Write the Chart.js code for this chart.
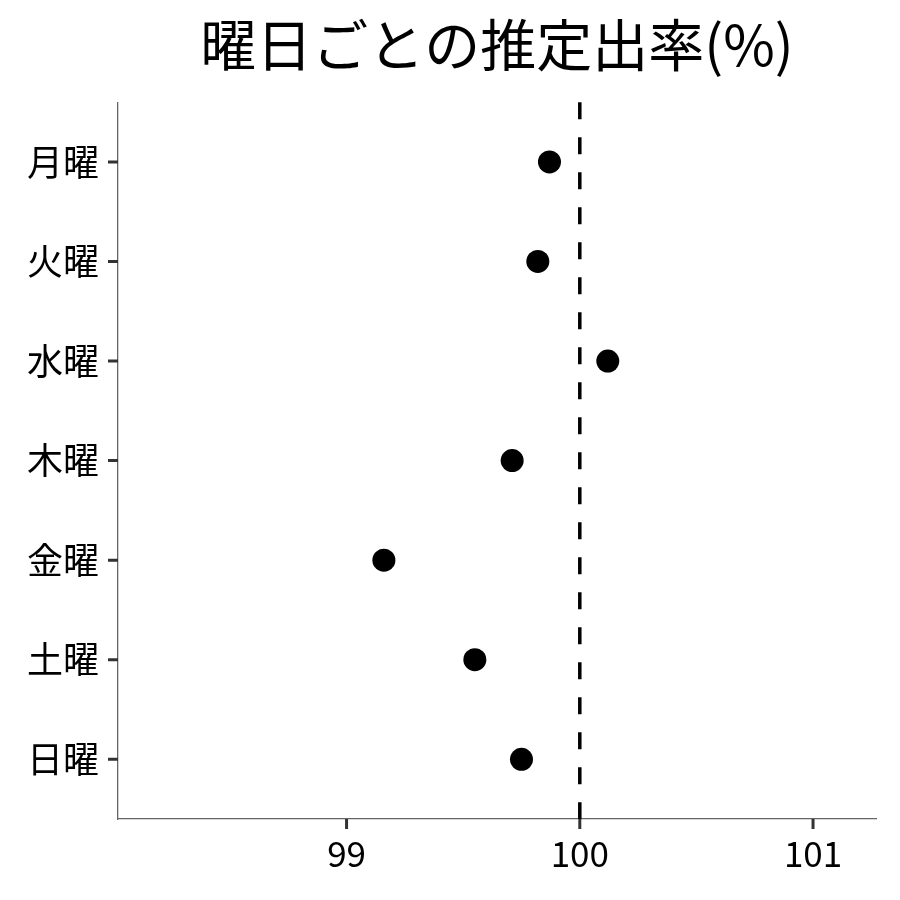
<!DOCTYPE html>
<html>
<head>
<meta charset="utf-8">
<script src="https://cdn.jsdelivr.net/npm/chart.js@4"></script>
<style>
  html, body { margin: 0; padding: 0; background: #fff; }
  #wrap { width: 900px; height: 900px; }
</style>
</head>
<body>
<div id="wrap"><canvas id="c" width="900" height="900"></canvas></div>
<script>
const days = ['月曜', '火曜', '水曜', '木曜', '金曜', '土曜', '日曜'];
const rates = [99.87, 99.82, 100.12, 99.71, 99.16, 99.55, 99.75];
const xTicks = [99, 100, 101];
const refRate = 100;

const font = '"Noto Sans CJK JP", "Noto Sans", sans-serif';

// vertical dashed reference line at refRate, plus thick axis ticks
const refLine = {
    id: 'refLine',
    afterDraw(chart) {
        const ctx = chart.ctx;
        const a = chart.chartArea;
        const sx = chart.scales.x, sy = chart.scales.y;
        const x = sx.getPixelForValue(refRate);
        ctx.save();
        ctx.strokeStyle = '#000';
        ctx.lineWidth = 3.5;
        ctx.setLineDash([17, 18]);
        ctx.beginPath();
        ctx.moveTo(x, a.top);
        ctx.lineTo(x, a.bottom);
        ctx.stroke();
        ctx.setLineDash([]);
        ctx.strokeStyle = '#333';
        ctx.lineWidth = 3;
        ctx.beginPath();
        sx.ticks.forEach(t => {
            const px = sx.getPixelForValue(t.value);
            ctx.moveTo(px, a.bottom);
            ctx.lineTo(px, a.bottom + 10);
        });
        sy.ticks.forEach(t => {
            const py = sy.getPixelForValue(t.value);
            ctx.moveTo(a.left, py);
            ctx.lineTo(a.left - 10, py);
        });
        ctx.stroke();
        ctx.restore();
    }
};

new Chart(document.getElementById('c'), {
    type: 'scatter',
    data: {
        datasets: [{
            data: rates.map((v, i) => ({ x: v, y: i })),
            pointRadius: 11.5,
            pointHoverRadius: 11.5,
            backgroundColor: '#000',
            borderWidth: 0
        }]
    },
    options: {
        responsive: false,
        animation: false,
        layout: { padding: { left: 0, right: 24, top: 0, bottom: 0 } },
        plugins: {
            legend: { display: false },
            tooltip: { enabled: false },
            title: {
                display: true,
                text: '曜日ごとの推定出率(%)',
                color: '#000',
                fullSize: false,
                font: { family: font, size: 56, weight: 'normal' },
                padding: { top: 11, bottom: 24 }
            }
        },
        scales: {
            x: {
                type: 'linear',
                min: 98.02,
                max: 101.27,
                afterBuildTicks: s => { s.ticks = xTicks.map(v => ({ value: v })); },
                afterFit: s => { s.height = 81; },
                ticks: { color: '#000', font: { family: font, size: 35 }, padding: 4 },
                grid: { drawOnChartArea: false, drawTicks: true, tickLength: 10, tickColor: 'rgba(0,0,0,0)' },
                border: { display: true, color: '#666', width: 1.3 }
            },
            y: {
                type: 'linear',
                min: -0.6,
                max: 6.6,
                reverse: true,
                afterBuildTicks: s => { s.ticks = days.map((d, i) => ({ value: i })); },
                afterFit: s => { s.width = 118; },
                ticks: {
                    color: '#000',
                    font: { family: font, size: 36 },
                    padding: 9,
                    callback: v => days[v]
                },
                grid: { drawOnChartArea: false, drawTicks: true, tickLength: 10, tickColor: 'rgba(0,0,0,0)' },
                border: { display: true, color: '#666', width: 1.3 }
            }
        }
    },
    plugins: [refLine]
});
</script>
</body>
</html>
